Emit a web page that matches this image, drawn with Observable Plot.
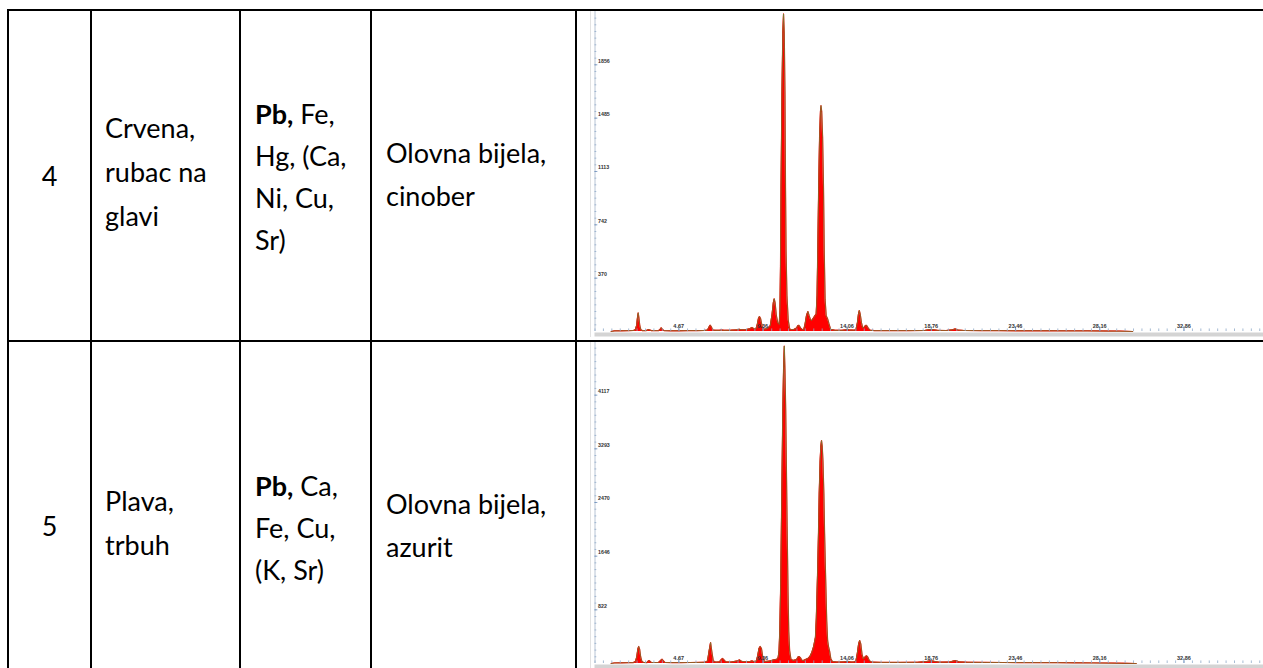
<!DOCTYPE html>
<html><head><meta charset="utf-8">
<script src="https://cdn.jsdelivr.net/npm/d3@7"></script>
<script src="https://cdn.jsdelivr.net/npm/@observablehq/plot@0.6"></script>
<style>
html,body{margin:0;padding:0;background:#fff;width:1263px;height:668px;overflow:hidden;}
#page{position:relative;width:1263px;height:668px;overflow:hidden;font-family:Lato,"Open Sans",sans-serif;color:#000;}
.hl{position:absolute;background:#000;height:2px;}
.vl{position:absolute;background:#000;width:2px;}
.cell{position:absolute;display:flex;flex-direction:column;justify-content:center;font-size:27px;line-height:43px;white-space:nowrap;}
.chart{position:absolute;border-left:1px solid #e2e2e2;}
.chart svg{display:block;}
</style></head><body><div id="page"></div>
<script>
// ---------- table content ----------
const sampleNumbers = ["4", "5"];
const sampleDescriptions = [["Crvena,", "rubac na", "glavi"], ["Plava,", "trbuh"]];
const elementLines = [[["Pb,", " Fe,"], ["", "Hg, (Ca,"], ["", "Ni, Cu,"], ["", "Sr)"]],
                      [["Pb,", " Ca,"], ["", "Fe, Cu,"], ["", "(K, Sr)"]]];
const pigmentLines = [["Olovna bijela,", "cinober"], ["Olovna bijela,", "azurit"]];

// ---------- spectrum axis labels ----------
const xTickValues = [4.67, 9.36, 14.06, 18.76, 23.46, 28.16, 32.86];
const xTickLabels = ["4.67", "9.36", "14.06", "18.76", "23.46", "28.16", "32.86"];
const yTickValues4 = [371.2, 742.4, 1113.6, 1484.8, 1856];
const yTickLabels4 = ["370", "742", "1113", "1485", "1856"];
const yMax4 = 2227;
const yTickValues5 = [823.4, 1646.8, 2470.2, 3293.6, 4117];
const yTickLabels5 = ["822", "1646", "2470", "3293", "4117"];
const yMax5 = 4940;

// ---------- spectra [keV, counts] ----------
const spectrum4 = [
[0.9,0],[1.1,4],[1.5,5],[1.9,6],[2.15,7],[2.25,12],[2.32,40],[2.37,95],[2.41,130],[2.45,95],[2.50,40],[2.56,12],[2.65,6],
[2.85,6],[2.95,11],[3.0,14],[3.05,11],[3.15,6],
[3.55,6],[3.64,16],[3.70,26],[3.76,16],[3.85,6],
[4.2,5],[4.7,5],[5.2,6],[5.7,6],[6.1,7],[6.28,10],[6.36,30],[6.43,44],[6.50,30],[6.58,10],[6.75,8],
[6.95,8],[7.05,10],[7.10,10],[7.2,8],[7.6,9],[7.95,12],[8.05,16],[8.15,12],[8.4,12],[8.65,20],[8.76,28],[8.86,20],
[8.98,18],[9.05,45],[9.12,90],[9.18,104],[9.24,90],[9.32,40],[9.40,18],[9.47,16],
[9.62,20],[9.78,40],[9.88,120],[9.95,200],[10.0,228],[10.05,200],[10.12,110],[10.20,60],[10.28,49],
[10.32,150],[10.35,450],[10.38,1000],[10.43,1650],[10.48,2080],[10.52,2210],[10.56,2080],[10.60,1650],[10.63,1000],[10.66,560],[10.71,250],[10.78,80],[10.86,20],[10.93,12],
[11.1,14],[11.25,25],[11.33,42],[11.39,42],[11.47,25],[11.58,12],[11.65,14],[11.72,50],[11.80,110],[11.88,139],[11.95,110],[12.03,80],[12.10,77],[12.2,95],[12.28,111],[12.34,120],
[12.39,250],[12.43,560],[12.48,1000],[12.53,1350],[12.58,1530],[12.61,1572],[12.65,1530],[12.70,1350],[12.75,1000],[12.79,560],[12.84,220],[12.90,110],[12.98,88],[13.05,56],[13.15,15],
[13.4,8],[13.8,8],[14.0,12],[14.1,15],[14.2,10],[14.35,10],[14.45,9],
[14.56,12],[14.64,60],[14.70,120],[14.75,146],[14.80,120],[14.87,60],[14.94,25],[15.02,30],[15.10,42],[15.16,42],[15.24,25],[15.34,9],
[15.6,6],[16.5,6],[17.5,6],[18.4,7],[18.6,12],[18.75,14],[18.9,12],[19.1,8],[19.6,7],[19.95,12],[20.1,18],[20.25,10],[20.6,7],
[21.5,6],[22.5,6],[23.5,5],[24.5,5],[25.5,5],[26.5,4],[27.5,4],[28.5,3],[29.3,2],[30.0,0]
];
const spectrum5 = [
[0.9,0],[1.1,8],[1.5,10],[1.9,12],[2.15,14],[2.26,30],[2.33,100],[2.39,220],[2.44,261],[2.49,220],[2.55,100],[2.62,30],[2.72,15],
[2.9,14],[2.97,35],[3.02,46],[3.07,35],[3.15,15],
[3.55,15],[3.66,45],[3.74,66],[3.81,45],[3.9,16],
[4.3,14],[4.8,14],[5.3,15],[5.8,16],[6.15,18],[6.28,40],[6.36,180],[6.45,322],[6.52,180],[6.60,40],[6.75,20],
[6.95,25],[7.05,60],[7.12,77],[7.19,60],[7.3,25],[7.6,22],[7.95,40],[8.07,55],[8.17,35],[8.4,25],[8.65,30],[8.76,40],[8.86,30],
[9.0,35],[9.08,120],[9.15,230],[9.22,261],[9.29,230],[9.36,100],[9.46,30],
[9.7,35],[9.9,50],[10.05,60],[10.15,65],
[10.22,90],[10.27,200],[10.31,500],[10.36,1200],[10.40,2100],[10.44,3000],[10.48,3900],[10.52,4500],[10.56,4870],[10.60,4500],[10.64,3900],[10.68,3000],[10.72,2100],[10.77,1100],[10.81,500],[10.86,200],[10.93,70],[11.05,45],
[11.25,60],[11.33,100],[11.39,107],[11.46,90],[11.55,50],[11.63,45],[11.75,60],[11.9,80],[12.0,110],[12.1,170],[12.2,260],[12.3,400],
[12.35,700],[12.42,1400],[12.47,2000],[12.51,2600],[12.56,3100],[12.60,3330],[12.64,3420],[12.68,3330],[12.72,3100],[12.77,2600],[12.81,2000],[12.87,1300],[12.93,650],[12.98,350],[13.03,260],[13.09,190],[13.16,70],[13.25,30],
[13.5,22],[13.9,25],[14.1,32],[14.25,24],[14.45,22],
[14.56,40],[14.64,160],[14.71,300],[14.77,353],[14.83,300],[14.90,140],[14.98,70],[15.07,100],[15.15,118],[15.22,100],[15.32,40],[15.45,20],
[16.0,17],[17.0,17],[18.0,18],[18.5,30],[18.7,40],[18.9,35],[19.2,20],[19.8,22],[20.0,38],[20.14,45],[20.3,25],[20.8,18],
[21.8,16],[22.8,15],[23.8,14],[24.8,13],[25.8,12],[26.8,10],[27.8,8],[28.8,5],[29.5,2],[30.2,0]
];

// ---------- layout ----------
const page = document.getElementById("page");
function div(cls, css, html) {
  const d = document.createElement("div");
  d.className = cls;
  Object.assign(d.style, css);
  if (html !== undefined) d.innerHTML = html;
  page.appendChild(d);
  return d;
}
const colX = [8, 91, 240, 371, 576];
const rowY = [10, 340, 711];

// cell texts
for (let r = 0; r < 2; r++) {
  const top = rowY[r] + 1, h = rowY[r + 1] - rowY[r] - 2;
  div("cell", {left: colX[0] + "px", top: top + "px", width: (colX[1] - colX[0]) + "px", height: h + "px", textAlign: "center"},
      sampleNumbers[r]);
  div("cell", {left: (colX[1] + 14) + "px", top: (top - 3) + "px", height: h + "px", lineHeight: "44px"},
      sampleDescriptions[r].map(s => `<div>${s}</div>`).join(""));
  div("cell", {left: (colX[2] + 15) + "px", top: (top + 2) + "px", height: h + "px", lineHeight: "42px"},
      elementLines[r].map(([b, t]) => `<div>${b ? `<b>${b}</b>` : ""}${t}</div>`).join(""));
  div("cell", {left: (colX[3] + 15) + "px", top: (top - 1) + "px", height: h + "px"},
      pigmentLines[r].map(s => `<div>${s}</div>`).join(""));
}

// spectra
const xMinor = d3.range(0, 37.3, 0.4695);
function spectrumPlot(spec, yVals, yLabs, yMax, height, marginBottom) {
  const data = spec.map(([e, c]) => ({e, c}));
  const yStep = yVals[0] / 8;
  const yMinor = d3.range(yStep, yMax, yStep);
  const xLab = xTickValues.map((v, i) => ({v, t: xTickLabels[i]}));
  const yLab = yVals.map((v, i) => ({v, t: yLabs[i]}));
  return Plot.plot({
    width: 672, height,
    marginLeft: 3.5, marginRight: 0, marginTop: 0, marginBottom,
    x: {domain: [0, 37.3], axis: null},
    y: {domain: [0, yMax], axis: null},
    style: {background: "transparent", overflow: "visible"},
    marks: [
      Plot.ruleY([0], {stroke: "#d4d4d4", strokeWidth: 4, dy: 3}),
      Plot.areaY(data, {x: "e", y: "c", fill: "#ff0000"}),
      Plot.lineY(data, {x: "e", y: "c", stroke: "#ff0000", strokeWidth: 1.2}),
      Plot.lineY(data, {x: "e", y: "c", stroke: "#4f9a3c", strokeWidth: 0.7, strokeOpacity: 0.85}),
      Plot.ruleX([0], {stroke: "#b8c4d4", strokeWidth: 1}),
      Plot.ruleY(yMinor, {x1: 0, x2: 0.1, stroke: "#8fa9c8", strokeWidth: 0.8}),
      Plot.ruleY(yVals, {x1: 0, x2: 0.16, stroke: "#7090bb", strokeWidth: 0.8}),
      Plot.ruleX(xMinor, {y1: 0, y2: yMax * 0.008, stroke: "#8fa9c8", strokeWidth: 0.8}),
      Plot.ruleX(xTickValues, {y1: 0, y2: yMax * 0.015, stroke: "#6a8ec0", strokeWidth: 0.8}),
      Plot.text(xLab, {x: "v", y: 0, text: "t", dy: -5.5, fontSize: 5.5, fontWeight: "bold", fill: "#333", fontFamily: "Liberation Sans, Arial, sans-serif"}),
      Plot.text(yLab, {x: 0, y: "v", text: "t", dx: 3, dy: -3.8, textAnchor: "start", fontSize: 5.3, fontWeight: "bold", fill: "#333", fontFamily: "Liberation Sans, Arial, sans-serif"})
    ]
  });
}
const c1 = div("chart", {left: "590px", top: "11px"});
c1.appendChild(spectrumPlot(spectrum4, yTickValues4, yTickLabels4, yMax4, 326, 6));
const c2 = div("chart", {left: "590px", top: "341px"});
c2.appendChild(spectrumPlot(spectrum5, yTickValues5, yTickLabels5, yMax5, 327, 5));

// table rules
div("hl", {left: "7px", top: "9px", width: "1256px"});
div("hl", {left: "7px", top: "339.5px", width: "1256px"});
for (const x of colX) div("vl", {left: (x - 1) + "px", top: "9px", height: "700px"});
</script>
</body></html>
